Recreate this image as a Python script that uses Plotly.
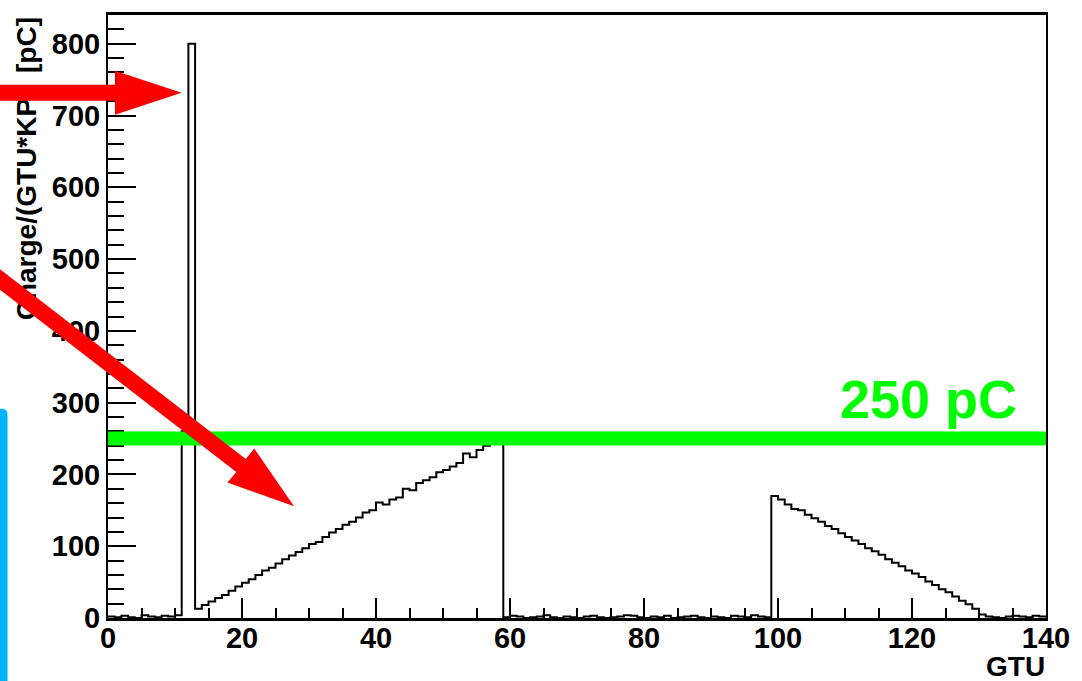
import plotly.graph_objects as go

# ---- canvas geometry (pixels) ----
FIG_W, FIG_H = 1082, 681
M_L, M_R, M_T, M_B = 108, 31, 13, 63
PLOT_W = FIG_W - M_L - M_R
PLOT_H = FIG_H - M_T - M_B

# ---- histogram contents: charge per 1-GTU bin (bins 0..139) ----
quiet_start = [2, 1, 3, 1, 0, 4, 2, 1, 3, 2, 4]                 # bins 0-10
spike = [260, 800]                                              # bins 11-12
ramp = [13, 18, 23, 28, 32, 38, 44, 49, 54, 60,
        66, 70, 76, 82, 87, 92, 97, 103, 106, 113,
        119, 124, 130, 134, 140, 147, 150, 161, 158, 165,
        168, 180, 178, 188, 192, 196, 203, 206, 211, 216,
        229, 224, 234, 240, 247, 256]                           # bins 13-58
quiet_mid = [1, 3, 2, 0, 1, 2, 4, 1, 0, 2,
             1, 0, 2, 3, 1, 0, 1, 2, 4, 3,
             1, 0, 2, 1, 3, 0, 1, 2, 3, 1,
             0, 2, 1, 0, 3, 2, 1, 4, 2, 1]                      # bins 59-98
decay = [170, 165, 158, 152, 150, 144, 139, 134, 128, 124,
         118, 113, 108, 103, 97, 93, 88, 82, 77, 72,
         66, 62, 57, 51, 46, 40, 36, 30, 24, 19,
         13, 5, 2]                                              # bins 99-131
quiet_end = [1, 0, 2, 3, 2, 1, 3, 2]                            # bins 132-139

bin_values = quiet_start + spike + ramp + quiet_mid + decay + quiet_end
bin_edges = list(range(len(bin_values) + 1))

THRESHOLD = 250
THRESHOLD_LABEL = "250 pC"
X_TITLE = "GTU"
Y_TITLE = "Charge/(GTU*KP)  [pC]"


def px(x):
    """pixel column -> paper x"""
    return (x - M_L) / PLOT_W


def py(y):
    """pixel row -> paper y"""
    return (FIG_H - M_B - y) / PLOT_H


def poly(points):
    return "M " + " L ".join(f"{px(x):.5f},{py(y):.5f}" for x, y in points) + " Z"


BOLD = dict(family="Liberation Sans, Arial, sans-serif", color="black", weight="bold")

fig = go.Figure()

# step outline of the histogram
fig.add_trace(go.Scatter(
    x=bin_edges,
    y=bin_values + [bin_values[-1]],
    mode="lines",
    line=dict(color="black", width=2, shape="hv"),
    hoverinfo="skip",
    showlegend=False,
))

RED = "rgb(250,0,0)"

shapes = [
    # threshold line
    dict(type="line", xref="x", yref="y", x0=0, x1=140, y0=THRESHOLD, y1=THRESHOLD,
         line=dict(color="#00FF00", width=14), layer="above"),
    # rotated y-axis title (sits under the arrows)
    dict(type="rect", xref="paper", yref="paper",
         x0=px(10), x1=px(37), y0=py(15), y1=py(320),
         line=dict(width=0), fillcolor="rgba(0,0,0,0)", layer="above",
         label=dict(text=Y_TITLE, font=dict(size=28, **BOLD), textangle=-90,
                    textposition="top center", xanchor="right", yanchor="middle",
                    padding=0)),
    # horizontal arrow pointing at the spike
    dict(type="path", xref="paper", yref="paper", layer="above",
         path=poly([(-5, 83), (115, 83), (115, 69), (182, 91),
                    (115, 113), (115, 99), (-5, 99)]),
         fillcolor=RED, line=dict(width=0)),
    # diagonal arrow pointing at the ramp
    dict(type="path", xref="paper", yref="paper", layer="above",
         path=poly([(-25, 270), (237, 471.5), (228, 482), (295, 506),
                    (255, 448), (246.5, 458.5), (-15, 257)]),
         fillcolor=RED, line=dict(width=0)),
    # blue side bar
    dict(type="path", xref="paper", yref="paper", layer="above",
         path=(f"M {px(-3):.5f},{py(690):.5f} L {px(-3):.5f},{py(408):.5f} "
               f"L {px(1):.5f},{py(408):.5f} Q {px(7):.5f},{py(408):.5f} {px(7):.5f},{py(414):.5f} "
               f"L {px(7):.5f},{py(690):.5f} Z"),
         fillcolor="#00B4FF", line=dict(width=0)),
]

annotations = [
    dict(text=THRESHOLD_LABEL, x=122.5, y=THRESHOLD, xref="x", yref="y",
         xanchor="center", yanchor="bottom", yshift=9, showarrow=False, borderpad=0,
         font=dict(size=54, family="Liberation Sans, Arial, sans-serif",
                   color="#00FF00", weight="bold")),
    dict(text=X_TITLE, x=1, y=py(667), xref="paper", yref="paper",
         xanchor="right", yanchor="middle", showarrow=False, borderpad=0,
         font=dict(size=28, **BOLD)),
]

axis_common = dict(
    showgrid=False, zeroline=False, showline=True, linecolor="black", mirror=True,
    ticks="inside", tickcolor="black", tickwidth=2,
    tickfont=dict(size=29, **BOLD),
)

fig.update_layout(
    width=FIG_W, height=FIG_H,
    margin=dict(l=M_L, r=M_R, t=M_T, b=M_B, pad=0),
    paper_bgcolor="white", plot_bgcolor="white",
    showlegend=False,
    xaxis=dict(range=[0, 140], tick0=0, dtick=20, ticklen=20, linewidth=3,
               ticklabelstandoff=-8,
               minor=dict(dtick=5, ticklen=10, tickwidth=1.5, ticks="inside",
                          tickcolor="black", showgrid=False),
               **axis_common),
    yaxis=dict(range=[0, 840], tick0=0, dtick=100, ticklen=28, linewidth=2,
               ticklabelstandoff=0,
               minor=dict(dtick=20, ticklen=16, tickwidth=1.5, ticks="inside",
                          tickcolor="black", showgrid=False),
               **axis_common),
    shapes=shapes,
    annotations=annotations,
)

fig.write_html("out.html")
